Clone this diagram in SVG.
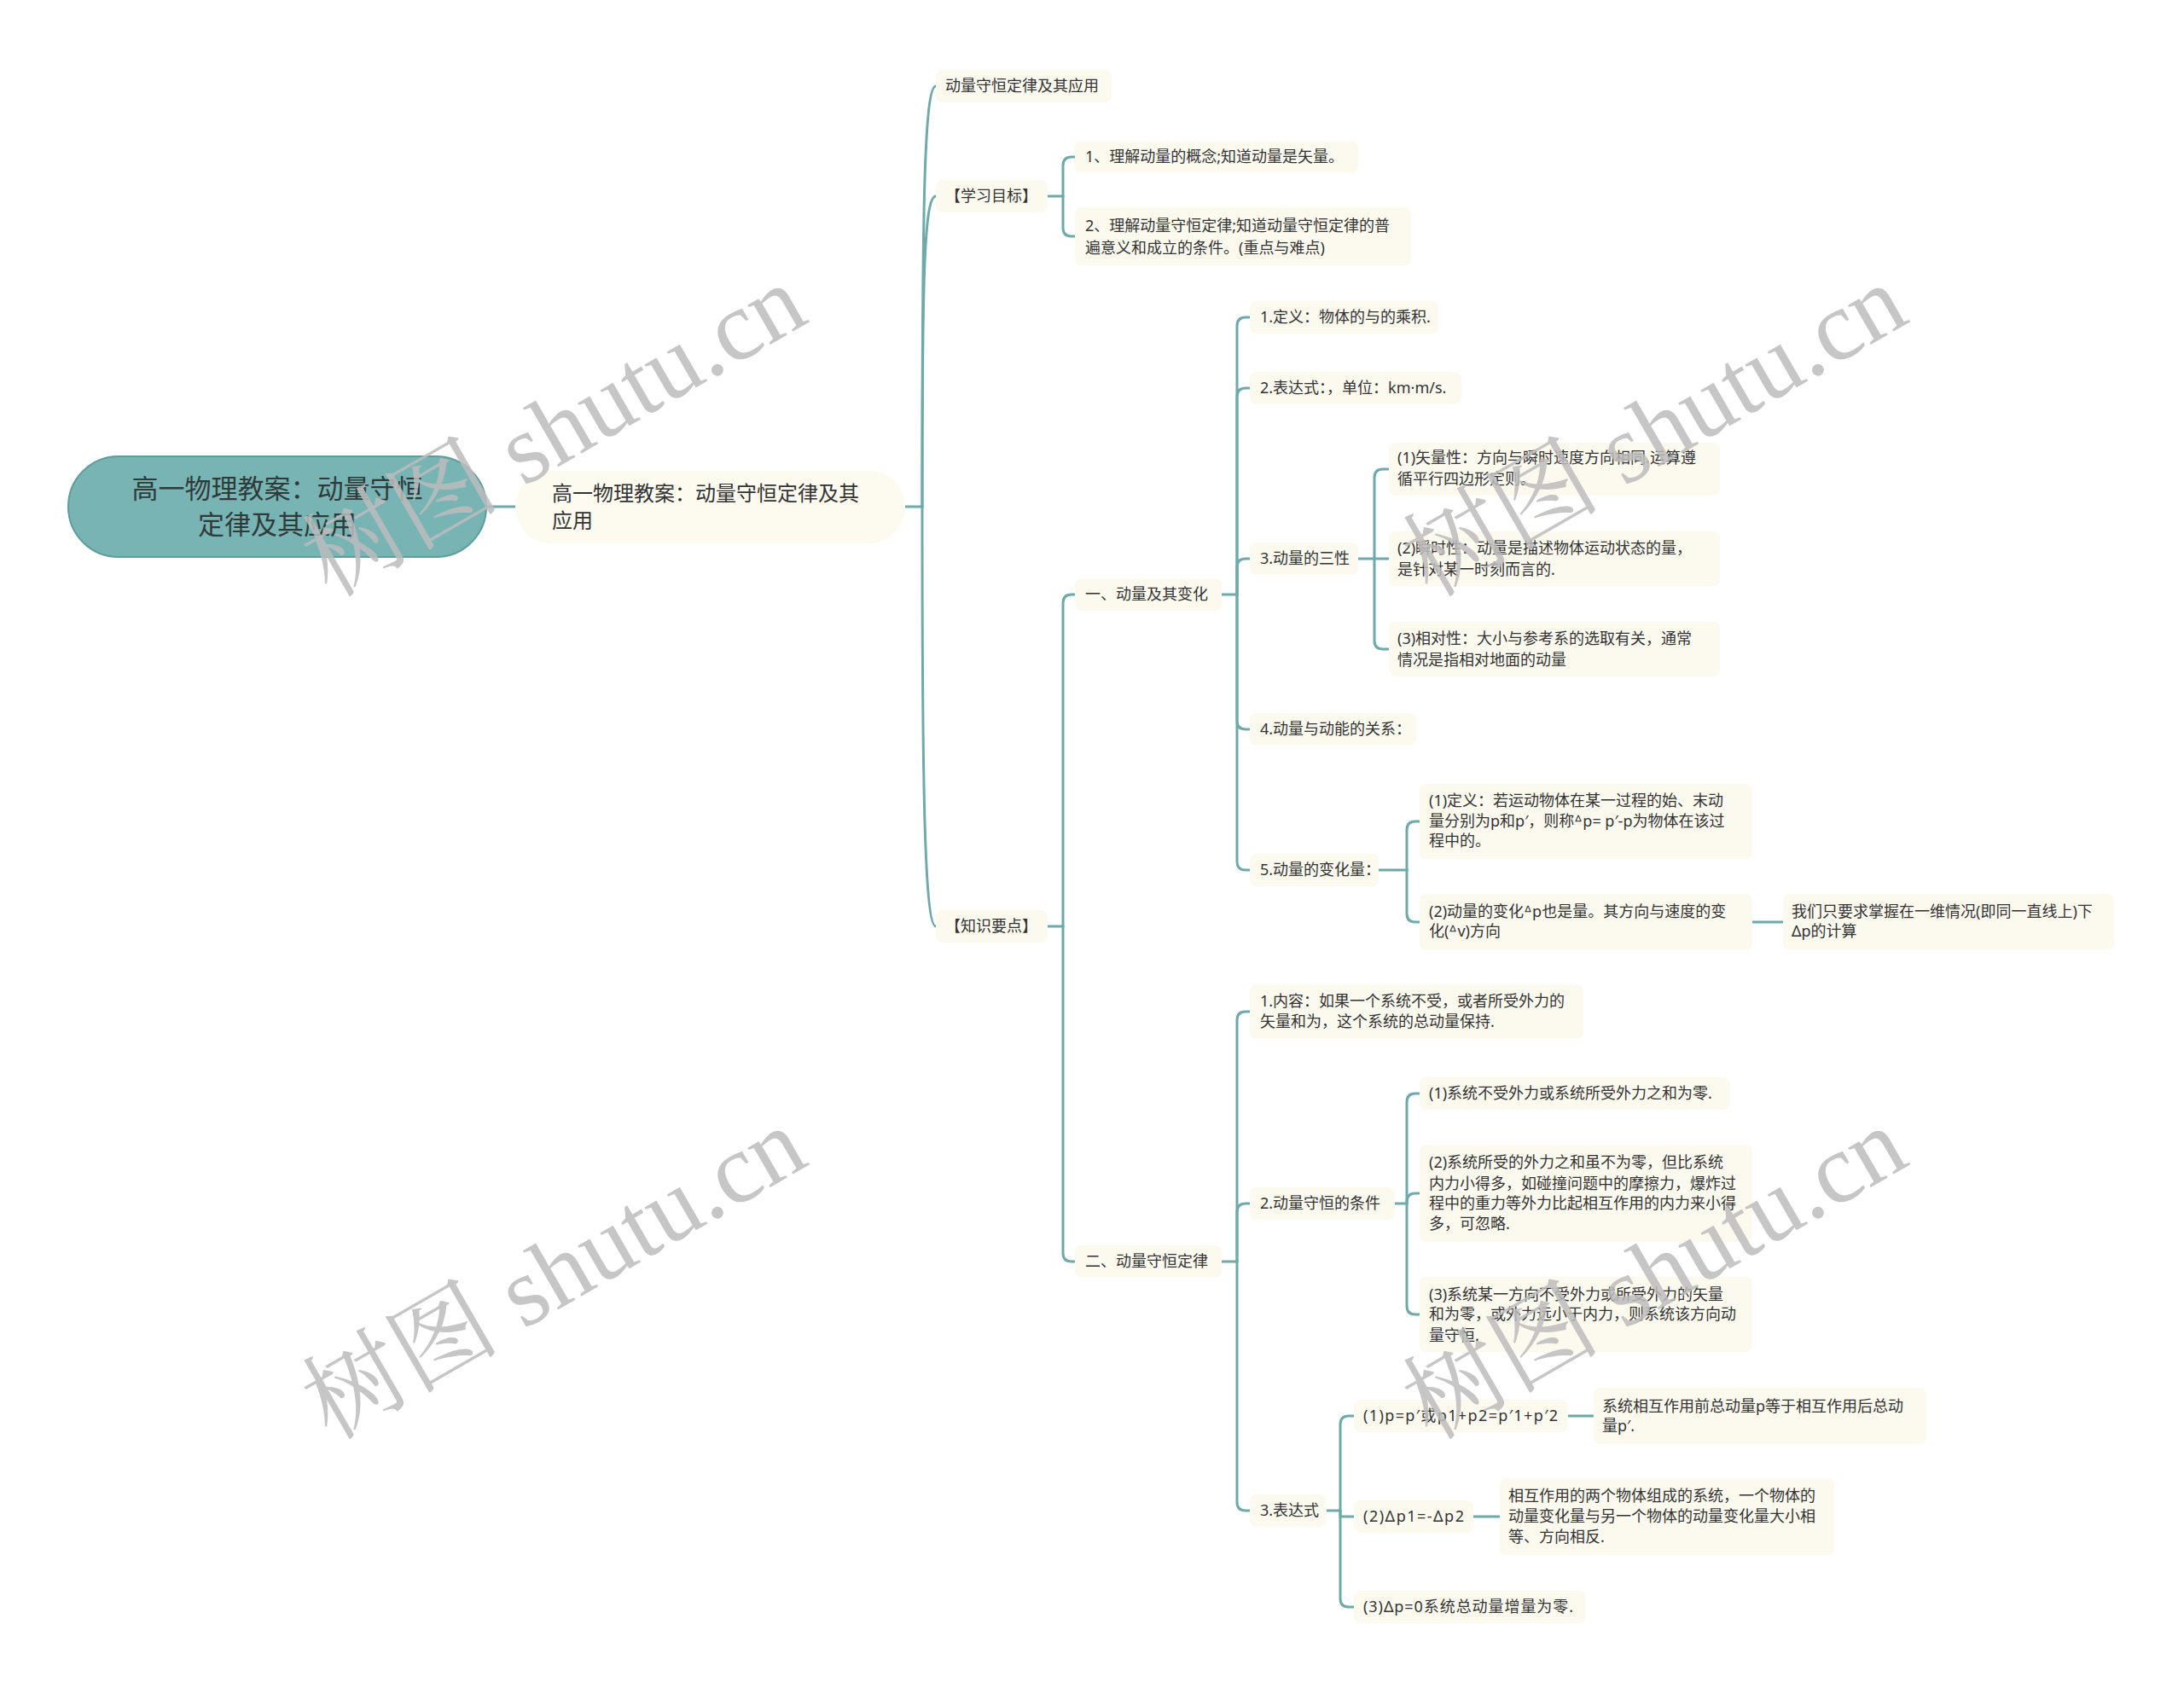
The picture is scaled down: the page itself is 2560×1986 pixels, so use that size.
<svg xmlns="http://www.w3.org/2000/svg" width="2560" height="1986" viewBox="0 0 2560 1986">
<style>
.bg{fill:#ffffff}
.root rect{fill:#79b4b4;stroke:#5f9c9c;stroke-width:2}
.root text{font-family:"Noto Sans CJK SC","Noto Sans",sans-serif;font-size:31px;fill:#2f3b3b;text-anchor:middle}
.l1 rect{fill:#fdfaf0}
.l1 text{font-family:"Noto Sans CJK SC","Noto Sans",sans-serif;font-size:24px;fill:#333333}
.n rect{fill:#fcf9ef}
.n text{font-family:"Noto Sans","Noto Sans CJK SC",sans-serif;font-size:18px;fill:#333333}
.links path{fill:none;stroke:#6fa9a9;stroke-width:3;stroke-linecap:round}
.wm text{font-family:"Liberation Serif","Noto Serif CJK SC","Noto Sans CJK SC",serif;font-size:116px;fill:#bdbdbd;opacity:0.85;text-anchor:middle}
</style>
<rect class="bg" x="0" y="0" width="2560" height="1986"/>

<g class="links" id="connectors">
<path d="M570,594 H604"/>
<path d="M1061,594 H1081"/>
<path d="M1081,594 C1081,250 1083,101 1097,101"/>
<path d="M1081,594 C1081,330 1083,230 1097,230"/>
<path d="M1081,594 C1081,900 1083,1086 1097,1086"/>
<path d="M1228,230 H1246"/>
<path d="M1246,230 V194 Q1246,184 1256,184 H1260"/>
<path d="M1246,230 V267 Q1246,277 1256,277 H1260"/>
<path d="M1228,1086 H1246"/>
<path d="M1246,1086 V707 Q1246,697 1256,697 H1260"/>
<path d="M1246,1086 V1469 Q1246,1479 1256,1479 H1260"/>
<path d="M1432,697 H1450"/>
<path d="M1450,697 V382 Q1450,372 1460,372 H1465"/>
<path d="M1450,697 V465 Q1450,455 1460,455 H1465"/>
<path d="M1450,697 V665 Q1450,655 1460,655 H1465"/>
<path d="M1450,697 V845 Q1450,855 1460,855 H1465"/>
<path d="M1450,697 V1010 Q1450,1020 1460,1020 H1465"/>
<path d="M1592,655 H1628"/>
<path d="M1611,655 V560 Q1611,550 1621,550 H1628"/>
<path d="M1611,655 V751 Q1611,761 1621,761 H1628"/>
<path d="M1616,1020 H1649"/>
<path d="M1649,1020 V973 Q1649,963 1659,963 H1664"/>
<path d="M1649,1020 V1071 Q1649,1081 1659,1081 H1664"/>
<path d="M2054,1081 H2090"/>
<path d="M1432,1479 H1450"/>
<path d="M1450,1479 V1196 Q1450,1186 1460,1186 H1465"/>
<path d="M1450,1479 V1421 Q1450,1411 1460,1411 H1465"/>
<path d="M1450,1479 V1761 Q1450,1771 1460,1771 H1465"/>
<path d="M1635,1411 H1649"/>
<path d="M1649,1411 V1409 Q1649,1399 1659,1399 H1664"/>
<path d="M1649,1411 V1292 Q1649,1282 1659,1282 H1664"/>
<path d="M1649,1411 V1531 Q1649,1541 1659,1541 H1664"/>
<path d="M1555,1771 H1571"/>
<path d="M1571,1771 V1670 Q1571,1660 1581,1660 H1587"/>
<path d="M1571,1771 V1778 H1587"/>
<path d="M1571,1771 V1874 Q1571,1884 1581,1884 H1587"/>
<path d="M1838,1660 H1868"/>
<path d="M1727,1778 H1758"/>
</g>

<g class="root" id="root">
<rect x="80" y="535" width="490" height="118" rx="59"/>
<text x="325" y="584">高一物理教案：动量守恒</text>
<text x="325" y="626">定律及其应用</text>
</g>

<g class="l1" id="main">
<rect x="604" y="552" width="457" height="85" rx="42"/>
<text x="647" y="587">高一物理教案：动量守恒定律及其</text>
<text x="647" y="619">应用</text>
</g>

<g class="n" id="n_a"><rect x="1097" y="82" width="206" height="38" rx="8"/><text x="1108" y="107">动量守恒定律及其应用</text></g>
<g class="n" id="n_b"><rect x="1097" y="211" width="131" height="38" rx="8"/><text x="1108" y="236">【学习目标】</text></g>
<g class="n" id="n_c"><rect x="1097" y="1067" width="131" height="38" rx="8"/><text x="1108" y="1092">【知识要点】</text></g>

<g class="n" id="b1"><rect x="1260" y="165" width="332" height="38" rx="8"/><text x="1272" y="190">1、理解动量的概念;知道动量是矢量。</text></g>
<g class="n" id="b2"><rect x="1260" y="243" width="394" height="68" rx="8"/><text x="1272" y="271">2、理解动量守恒定律;知道动量守恒定律的普</text><text x="1272" y="297">遍意义和成立的条件。(重点与难点)</text></g>

<g class="n" id="c1"><rect x="1260" y="678" width="172" height="38" rx="8"/><text x="1272" y="703">一、动量及其变化</text></g>
<g class="n" id="c2"><rect x="1260" y="1460" width="172" height="38" rx="8"/><text x="1272" y="1485">二、动量守恒定律</text></g>

<g class="n" id="d1"><rect x="1465" y="353" width="221" height="38" rx="8"/><text x="1477" y="378">1.定义：物体的与的乘积.</text></g>
<g class="n" id="d2"><rect x="1465" y="436" width="248" height="38" rx="8"/><text x="1477" y="461">2.表达式：，单位：km·m/s.</text></g>
<g class="n" id="d3"><rect x="1465" y="636" width="127" height="38" rx="8"/><text x="1477" y="661">3.动量的三性</text></g>
<g class="n" id="d4"><rect x="1465" y="836" width="195" height="38" rx="8"/><text x="1477" y="861">4.动量与动能的关系：</text></g>
<g class="n" id="d5"><rect x="1465" y="1001" width="151" height="38" rx="8"/><text x="1477" y="1026">5.动量的变化量：</text></g>

<g class="n" id="e1"><rect x="1628" y="519" width="388" height="62" rx="8"/><text x="1638" y="543">(1)矢量性：方向与瞬时速度方向相同.运算遵</text><text x="1638" y="568">循平行四边形定则。</text></g>
<g class="n" id="e2"><rect x="1628" y="623" width="388" height="64" rx="8"/><text x="1638" y="649">(2)瞬时性：动量是描述物体运动状态的量，</text><text x="1638" y="674">是针对某一时刻而言的.</text></g>
<g class="n" id="e3"><rect x="1628" y="729" width="388" height="64" rx="8"/><text x="1638" y="755">(3)相对性：大小与参考系的选取有关，通常</text><text x="1638" y="780">情况是指相对地面的动量</text></g>

<g class="n" id="f1"><rect x="1664" y="919" width="390" height="88" rx="8"/><text x="1675" y="945">(1)定义：若运动物体在某一过程的始、末动</text><text x="1675" y="969">量分别为p和p′，则称ᐞp= p′-p为物体在该过</text><text x="1675" y="992">程中的。</text></g>
<g class="n" id="f2"><rect x="1664" y="1048" width="390" height="66" rx="8"/><text x="1675" y="1075">(2)动量的变化ᐞp也是量。其方向与速度的变</text><text x="1675" y="1098">化(ᐞv)方向</text></g>
<g class="n" id="g1"><rect x="2090" y="1048" width="388" height="66" rx="8"/><text x="2100" y="1075">我们只要求掌握在一维情况(即同一直线上)下</text><text x="2100" y="1098">Δp的计算</text></g>

<g class="n" id="h1"><rect x="1465" y="1154" width="391" height="64" rx="8"/><text x="1477" y="1180">1.内容：如果一个系统不受，或者所受外力的</text><text x="1477" y="1204">矢量和为，这个系统的总动量保持.</text></g>
<g class="n" id="h2"><rect x="1465" y="1392" width="170" height="38" rx="8"/><text x="1477" y="1417">2.动量守恒的条件</text></g>
<g class="n" id="h3"><rect x="1465" y="1752" width="90" height="38" rx="8"/><text x="1477" y="1777">3.表达式</text></g>

<g class="n" id="i1"><rect x="1664" y="1263" width="364" height="38" rx="8"/><text x="1675" y="1288">(1)系统不受外力或系统所受外力之和为零.</text></g>
<g class="n" id="i2"><rect x="1664" y="1342" width="390" height="114" rx="8"/><text x="1675" y="1369">(2)系统所受的外力之和虽不为零，但比系统</text><text x="1675" y="1394">内力小得多，如碰撞问题中的摩擦力，爆炸过</text><text x="1675" y="1417">程中的重力等外力比起相互作用的内力来小得</text><text x="1675" y="1441">多，可忽略.</text></g>
<g class="n" id="i3"><rect x="1664" y="1497" width="390" height="88" rx="8"/><text x="1675" y="1524">(3)系统某一方向不受外力或所受外力的矢量</text><text x="1675" y="1547">和为零，或外力远小于内力，则系统该方向动</text><text x="1675" y="1572">量守恒.</text></g>

<g class="n" id="j1"><rect x="1587" y="1641" width="251" height="38" rx="8"/><text x="1598" y="1666" textLength="228" lengthAdjust="spacing">(1)p=p′或p1+p2=p′1+p′2</text></g>
<g class="n" id="k1"><rect x="1868" y="1627" width="390" height="66" rx="8"/><text x="1878" y="1655">系统相互作用前总动量p等于相互作用后总动</text><text x="1878" y="1678">量p′.</text></g>
<g class="n" id="j2"><rect x="1587" y="1759" width="140" height="38" rx="8"/><text x="1598" y="1784" textLength="118" lengthAdjust="spacing">(2)Δp1=-Δp2</text></g>
<g class="n" id="k2"><rect x="1758" y="1733" width="392" height="90" rx="8"/><text x="1768" y="1760">相互作用的两个物体组成的系统，一个物体的</text><text x="1768" y="1784">动量变化量与另一个物体的动量变化量大小相</text><text x="1768" y="1808">等、方向相反.</text></g>
<g class="n" id="j3"><rect x="1587" y="1865" width="271" height="38" rx="8"/><text x="1598" y="1890" textLength="246" lengthAdjust="spacing">(3)Δp=0系统总动量增量为零.</text></g>

<g class="wm" id="watermarks">
<text transform="translate(650,506) rotate(-30)" y="38">树图 shutu.cn</text>
<text transform="translate(650,1494) rotate(-30)" y="38">树图 shutu.cn</text>
<text transform="translate(1940,506) rotate(-30)" y="38">树图 shutu.cn</text>
<text transform="translate(1940,1494) rotate(-30)" y="38">树图 shutu.cn</text>
</g>
</svg>
